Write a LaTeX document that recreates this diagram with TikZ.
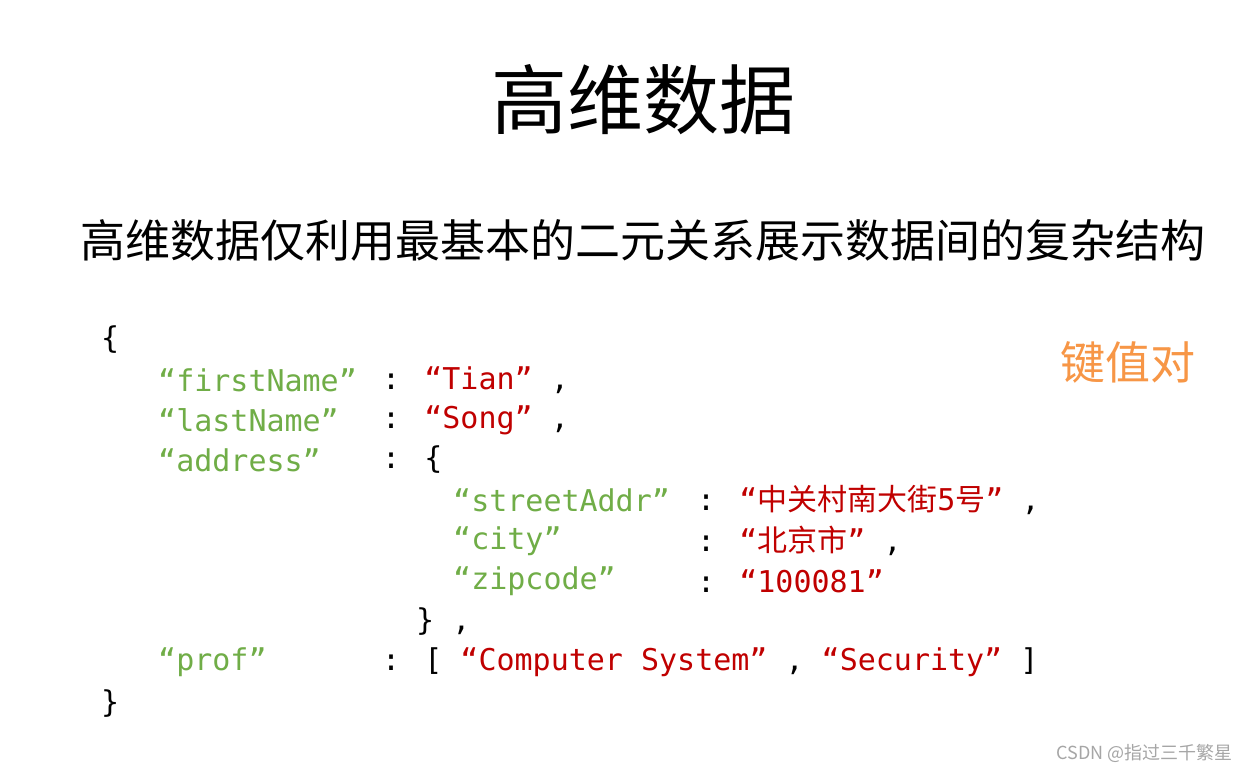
\documentclass[tikz,border=0pt]{standalone}
\usepackage{fontspec}
\setmainfont{Noto Sans CJK SC}
\newfontfamily\cjk{Noto Sans CJK SC}
\newfontfamily\code{DejaVu Sans Mono}
\definecolor{kg}{RGB}{112,173,71}
\definecolor{vr}{RGB}{192,0,0}
\definecolor{org}{RGB}{247,150,70}
\newcommand{\K}[1]{\textcolor{kg}{#1}}
\newcommand{\V}[1]{\textcolor{vr}{#1}}
\newcommand{\C}[1]{{\cjk #1}}
\begin{document}
\begin{tikzpicture}[x=1pt,y=-1pt,
  ln/.style={anchor=west,inner sep=0pt,font=\code\fontsize{30}{30}\selectfont}]
\useasboundingbox (0,0) rectangle (1249,772);
\fill[white] (0,0) rectangle (1249,772);
\node[font=\fontsize{76}{76}\selectfont] (title) at (643,100) {高维数据};
\node[font=\fontsize{45}{45}\selectfont] (sub) at (643,240) {高维数据仅利用最基本的二元关系展示数据间的复杂结构};
\node[font=\fontsize{45}{45}\selectfont,text=org] (kv) at (1128,362) {键值对};
\node[ln] (l1) at (101,340) {\{};
\node[ln] (k2) at (158,380) {\K{“firstName”}};
\node[ln] (c2) at (382,380) {: \V{“Tian”} ,};
\node[ln] (k3) at (158,420) {\K{“lastName”}};
\node[ln] (c3) at (382,420) {: \V{“Song”} ,};
\node[ln] (k4) at (158,460) {\K{“address”}};
\node[ln] (c4) at (382,460) {: \{};
\node[ln] (k5) at (453,500) {\K{“streetAddr”}};
\node[ln] (c5) at (697,500) {: \V{“\C{中关村南大街}5\C{号}”} ,};
\node[ln] (k6) at (453,541) {\K{“city”}};
\node[ln] (c6) at (697,541) {: \V{“\C{北京市}”} ,};
\node[ln] (k7) at (453,581) {\K{“zipcode”}};
\node[ln] (c7) at (697,581) {: \V{“100081”}};
\node[ln] (l8) at (416,622) {\} ,};
\node[ln] (k9) at (158,662) {\K{“prof”}};
\node[ln] (c9) at (382,662) {: [ \V{“Computer System”} , \V{“Security”} ]};
\node[ln] (l10) at (101,704) {\}};
\node[anchor=east,text=gray!70,font=\fontsize{18}{18}\selectfont] (csdn) at (1236,753) {CSDN @指过三千繁星};
\end{tikzpicture}
\end{document}
